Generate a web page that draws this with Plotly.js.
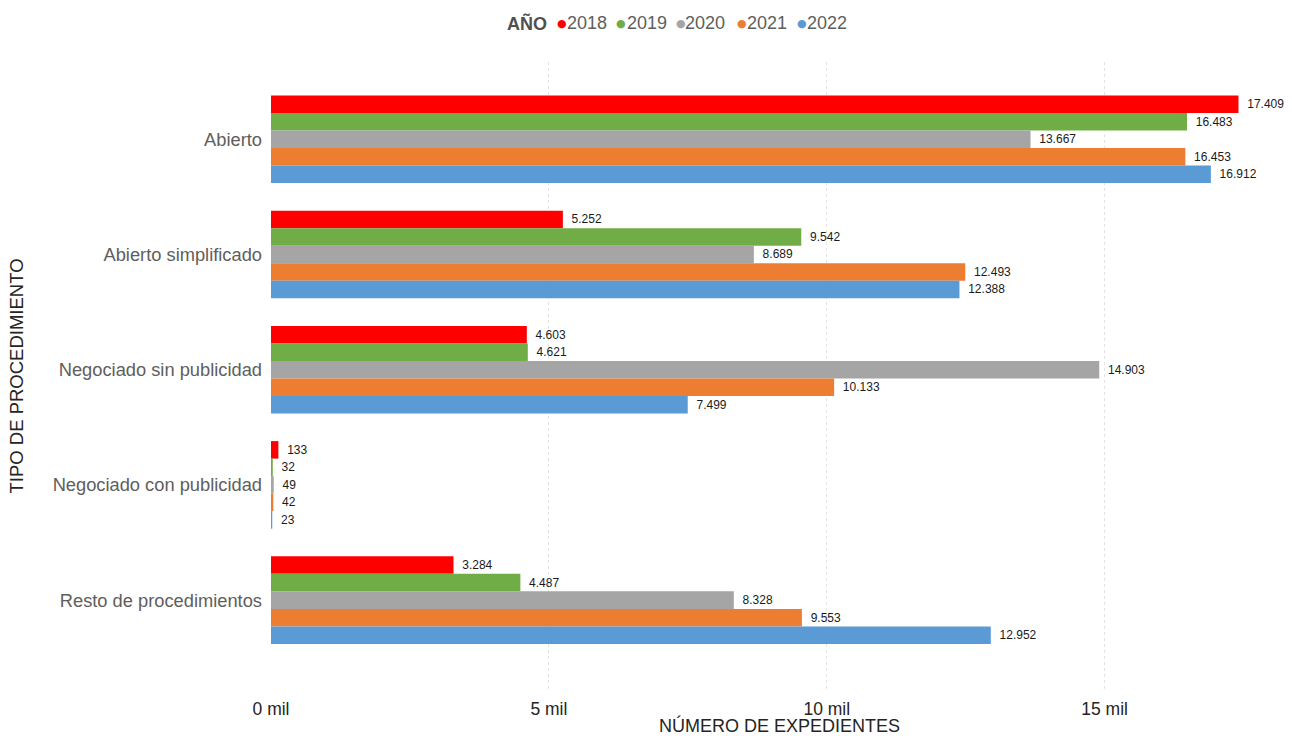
<!DOCTYPE html>
<html>
<head>
<meta charset="utf-8">
<script src="https://cdn.plot.ly/plotly-3.0.1.min.js"></script>
<style>html,body{margin:0;padding:0;background:#fff;}#chart{width:1292px;height:736px;}</style>
</head>
<body>
<div id="chart"></div>
<script>
const categories = ["Abierto", "Abierto simplificado", "Negociado sin publicidad", "Negociado con publicidad", "Resto de procedimientos"];
const years = ["2018", "2019", "2020", "2021", "2022"];
const v2018 = [17409, 5252, 4603, 133, 3284];
const v2019 = [16483, 9542, 4621, 32, 4487];
const v2020 = [13667, 8689, 14903, 49, 8328];
const v2021 = [16453, 12493, 10133, 42, 9553];
const v2022 = [16912, 12388, 7499, 23, 12952];
const tickValues = [0, 5000, 10000, 15000];
const tickLabels = ["0 mil", "5 mil", "10 mil", "15 mil"];
const legendTitle = "AÑO";
const colors = ["#FF0000", "#70AD47", "#A5A5A5", "#ED7D31", "#5B9BD5"];

const series = [v2018, v2019, v2020, v2021, v2022];
const FONT = "Liberation Sans, Arial, sans-serif";

// plot area geometry (pixels) for placing the legend
const W = 1292, H = 736, ML = 271, MR = 4, MT = 62, MB = 46;
const PW = W - ML - MR, PH = H - MT - MB;
const px = x => (x - ML) / PW;
const py = y => (H - MB - y) / PH;

const traces = [];
series.forEach((vals, i) => {
  traces.push({
    type: "bar",
    orientation: "h",
    name: years[i],
    x: vals,
    y: categories,
    marker: {color: colors[i], line: {width: 0}},
    texttemplate: "\u00a0\u2009%{x:,}",
    textposition: "outside",
    cliponaxis: false,
    textfont: {family: FONT, size: 12, color: "#1a1a1a"},
    showlegend: false,
    hoverinfo: "x+y"
  });
});

// legend drawn as annotations (Power BI style: title + small dots)
const dotCenters = [561.5, 621, 680.5, 742, 802];
const textStarts = [567, 627, 685, 747, 807];
const annotations = [];
annotations.push({
  xref: "paper", yref: "paper", x: px(505), y: py(23.5),
  xanchor: "left", yanchor: "middle", showarrow: false,
  text: "<b>" + legendTitle + "</b>",
  font: {family: FONT, size: 18, color: "#505050"}
});
years.forEach((yr, i) => {
  annotations.push({
    xref: "paper", yref: "paper", x: px(dotCenters[i]), y: py(24),
    xanchor: "center", yanchor: "middle", showarrow: false,
    text: "●",
    font: {family: "DejaVu Sans", size: 11, color: colors[i]}
  });
  annotations.push({
    xref: "paper", yref: "paper", x: px(textStarts[i] - 2), y: py(23.5),
    xanchor: "left", yanchor: "middle", showarrow: false,
    text: yr,
    font: {family: FONT, size: 18, color: "#605E5C"}
  });
});

const layout = {
  width: W,
  height: H,
  paper_bgcolor: "#fff",
  plot_bgcolor: "#fff",
  separators: ",.",
  barmode: "group",
  bargap: 0.24,
  bargroupgap: 0,
  margin: {l: ML, r: MR, t: MT, b: MB, pad: 0},
  font: {family: FONT, color: "#605E5C"},
  showlegend: false,
  annotations: annotations,
  xaxis: {
    range: [0, 18300],
    tickvals: tickValues,
    ticktext: tickLabels,
    tickfont: {family: FONT, size: 17.5, color: "#252423"},
    showgrid: true,
    gridcolor: "#e3e3e3",
    griddash: "dot",
    gridwidth: 1,
    zeroline: false,
    showline: false,
    ticks: "",
    ticklabelstandoff: 6,
    title: {text: "NÚMERO DE EXPEDIENTES", font: {family: FONT, size: 18, color: "#252423"}, standoff: 4}
  },
  yaxis: {
    type: "category",
    categoryorder: "array",
    categoryarray: categories,
    range: [4.78, -0.67],
    tickfont: {family: FONT, size: 18.3, color: "#605E5C"},
    showgrid: false,
    zeroline: false,
    showline: false,
    ticks: "",
    ticklabelstandoff: 8,
    title: {text: "TIPO DE PROCEDIMIENTO", font: {family: FONT, size: 18.5, color: "#252423"}, standoff: 24}
  }
};

Plotly.newPlot("chart", traces, layout, {displayModeBar: false, staticPlot: true});
</script>
</body>
</html>
